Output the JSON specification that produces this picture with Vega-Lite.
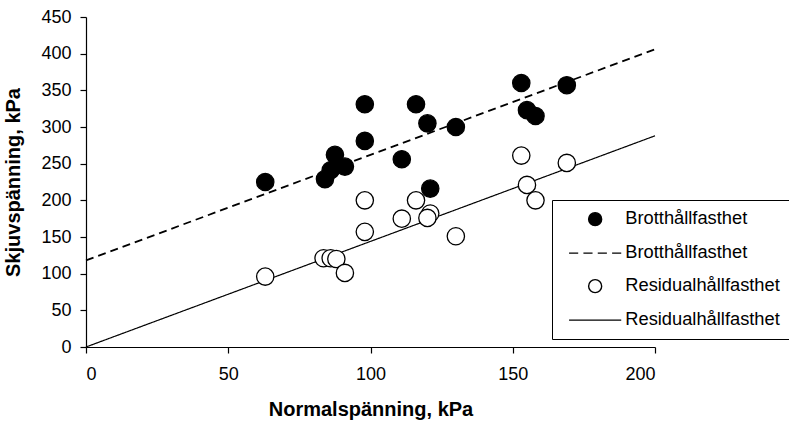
{
  "$schema": "https://vega.github.io/schema/vega-lite/v6.json",
  "width": 569,
  "height": 330,
  "autosize": {"type": "none"},
  "padding": {"left": 86, "top": 17, "right": 134, "bottom": 76},
  "background": "white",
  "config": {
    "view": {"stroke": null},
    "font": "Liberation Sans",
    "axis": {
      "grid": false,
      "domainColor": "black",
      "tickColor": "black",
      "labelColor": "black",
      "titleColor": "black",
      "labelFont": "Liberation Sans",
      "titleFont": "Liberation Sans",
      "labelFontSize": 18,
      "titleFontSize": 20,
      "titleFontWeight": "bold",
      "tickSize": 6,
      "domainWidth": 1.2,
      "tickWidth": 1.2
    },
    "legend": {
      "orient": "none",
      "legendX": 466,
      "legendY": 183,
      "title": null,
      "labelFont": "Liberation Sans",
      "labelFontSize": 18.3,
      "labelColor": "black",
      "labelLimit": 400,
      "symbolSize": 170,
      "symbolStrokeColor": "black",
      "symbolStrokeWidth": 1.4,
      "symbolOffset": 24,
      "strokeColor": "black",
      "fillColor": "white",
      "padding": 10,
      "rowPadding": 14,
      "labelOffset": 21
    }
  },
  "datasets": {
    "lines": [
      {"series": "Brotthållfasthet (linje)", "x": 0, "y": 118},
      {"series": "Brotthållfasthet (linje)", "x": 200, "y": 406},
      {"series": "Residualhållfasthet (linje)", "x": 0, "y": 0},
      {"series": "Residualhållfasthet (linje)", "x": 200, "y": 288}
    ],
    "points": [
      {"series": "Brotthållfasthet (punkter)", "x": 63, "y": 225},
      {"series": "Brotthållfasthet (punkter)", "x": 84, "y": 229},
      {"series": "Brotthållfasthet (punkter)", "x": 86, "y": 241},
      {"series": "Brotthållfasthet (punkter)", "x": 87.5, "y": 262},
      {"series": "Brotthållfasthet (punkter)", "x": 91, "y": 246},
      {"series": "Brotthållfasthet (punkter)", "x": 98, "y": 331},
      {"series": "Brotthållfasthet (punkter)", "x": 98, "y": 281},
      {"series": "Brotthållfasthet (punkter)", "x": 111, "y": 256},
      {"series": "Brotthållfasthet (punkter)", "x": 116, "y": 331},
      {"series": "Brotthållfasthet (punkter)", "x": 120, "y": 305},
      {"series": "Brotthållfasthet (punkter)", "x": 121, "y": 216},
      {"series": "Brotthållfasthet (punkter)", "x": 130, "y": 300},
      {"series": "Brotthållfasthet (punkter)", "x": 153, "y": 360},
      {"series": "Brotthållfasthet (punkter)", "x": 169, "y": 357},
      {"series": "Brotthållfasthet (punkter)", "x": 155, "y": 323},
      {"series": "Brotthållfasthet (punkter)", "x": 158, "y": 315},
      {"series": "Residualhållfasthet (punkter)", "x": 63, "y": 96},
      {"series": "Residualhållfasthet (punkter)", "x": 83.5, "y": 121},
      {"series": "Residualhållfasthet (punkter)", "x": 86, "y": 121},
      {"series": "Residualhållfasthet (punkter)", "x": 88, "y": 120},
      {"series": "Residualhållfasthet (punkter)", "x": 91, "y": 101},
      {"series": "Residualhållfasthet (punkter)", "x": 98, "y": 200},
      {"series": "Residualhållfasthet (punkter)", "x": 98, "y": 157},
      {"series": "Residualhållfasthet (punkter)", "x": 111, "y": 175},
      {"series": "Residualhållfasthet (punkter)", "x": 116, "y": 200},
      {"series": "Residualhållfasthet (punkter)", "x": 121, "y": 182},
      {"series": "Residualhållfasthet (punkter)", "x": 120, "y": 176},
      {"series": "Residualhållfasthet (punkter)", "x": 130, "y": 151},
      {"series": "Residualhållfasthet (punkter)", "x": 153, "y": 261},
      {"series": "Residualhållfasthet (punkter)", "x": 169, "y": 251},
      {"series": "Residualhållfasthet (punkter)", "x": 155, "y": 221},
      {"series": "Residualhållfasthet (punkter)", "x": 158, "y": 200}
    ]
  },
  "encoding": {
    "x": {
      "field": "x",
      "type": "quantitative",
      "scale": {"domain": [0, 200], "nice": false, "zero": false},
      "axis": {"title": "Normalspänning, kPa", "values": [0, 50, 100, 150, 200], "labelPadding": 12, "titlePadding": 16}
    },
    "y": {
      "field": "y",
      "type": "quantitative",
      "scale": {"domain": [0, 450], "nice": false},
      "axis": {"title": "Skjuvspänning, kPa", "values": [0, 50, 100, 150, 200, 250, 300, 350, 400, 450], "labelPadding": 9, "titlePadding": 17}
    }
  },
  "layer": [
    {
      "data": {"name": "lines"},
      "mark": {"type": "line", "color": "black"},
      "encoding": {
        "detail": {"field": "series", "type": "nominal"},
        "strokeDash": {
          "field": "series",
          "type": "nominal",
          "scale": {"domain": ["Brotthållfasthet (linje)", "Residualhållfasthet (linje)"], "range": [[8, 5], [1, 0]]},
          "legend": null
        },
        "strokeWidth": {
          "field": "series",
          "type": "nominal",
          "scale": {"domain": ["Brotthållfasthet (linje)", "Residualhållfasthet (linje)"], "range": [1.8, 1.2]},
          "legend": null
        }
      }
    },
    {
      "data": {"name": "points"},
      "mark": {"type": "point", "shape": "circle", "size": 300, "strokeWidth": 1.3, "opacity": 1},
      "encoding": {
        "fill": {
          "field": "series",
          "type": "nominal",
          "scale": {
            "domain": ["Brotthållfasthet (punkter)", "Brotthållfasthet (linje)", "Residualhållfasthet (punkter)", "Residualhållfasthet (linje)"],
            "range": ["black", "white", "white", "white"]
          },
          "legend": {"labelExpr": "split(datum.label, ' (')[0]"}
        },
        "stroke": {
          "field": "series",
          "type": "nominal",
          "scale": {
            "domain": ["Brotthållfasthet (punkter)", "Brotthållfasthet (linje)", "Residualhållfasthet (punkter)", "Residualhållfasthet (linje)"],
            "range": ["black", "black", "black", "black"]
          },
          "legend": {"labelExpr": "split(datum.label, ' (')[0]"}
        },
        "shape": {
          "field": "series",
          "type": "nominal",
          "scale": {
            "domain": ["Brotthållfasthet (punkter)", "Brotthållfasthet (linje)", "Residualhållfasthet (punkter)", "Residualhållfasthet (linje)"],
            "range": ["circle", "M-4,0L-2.6,0M-1.8,0L-0.4,0M0.4,0L1.8,0M2.6,0L4,0", "circle", "M-4,0L4,0"]
          },
          "legend": {"labelExpr": "split(datum.label, ' (')[0]"}
        }
      }
    }
  ]
}
